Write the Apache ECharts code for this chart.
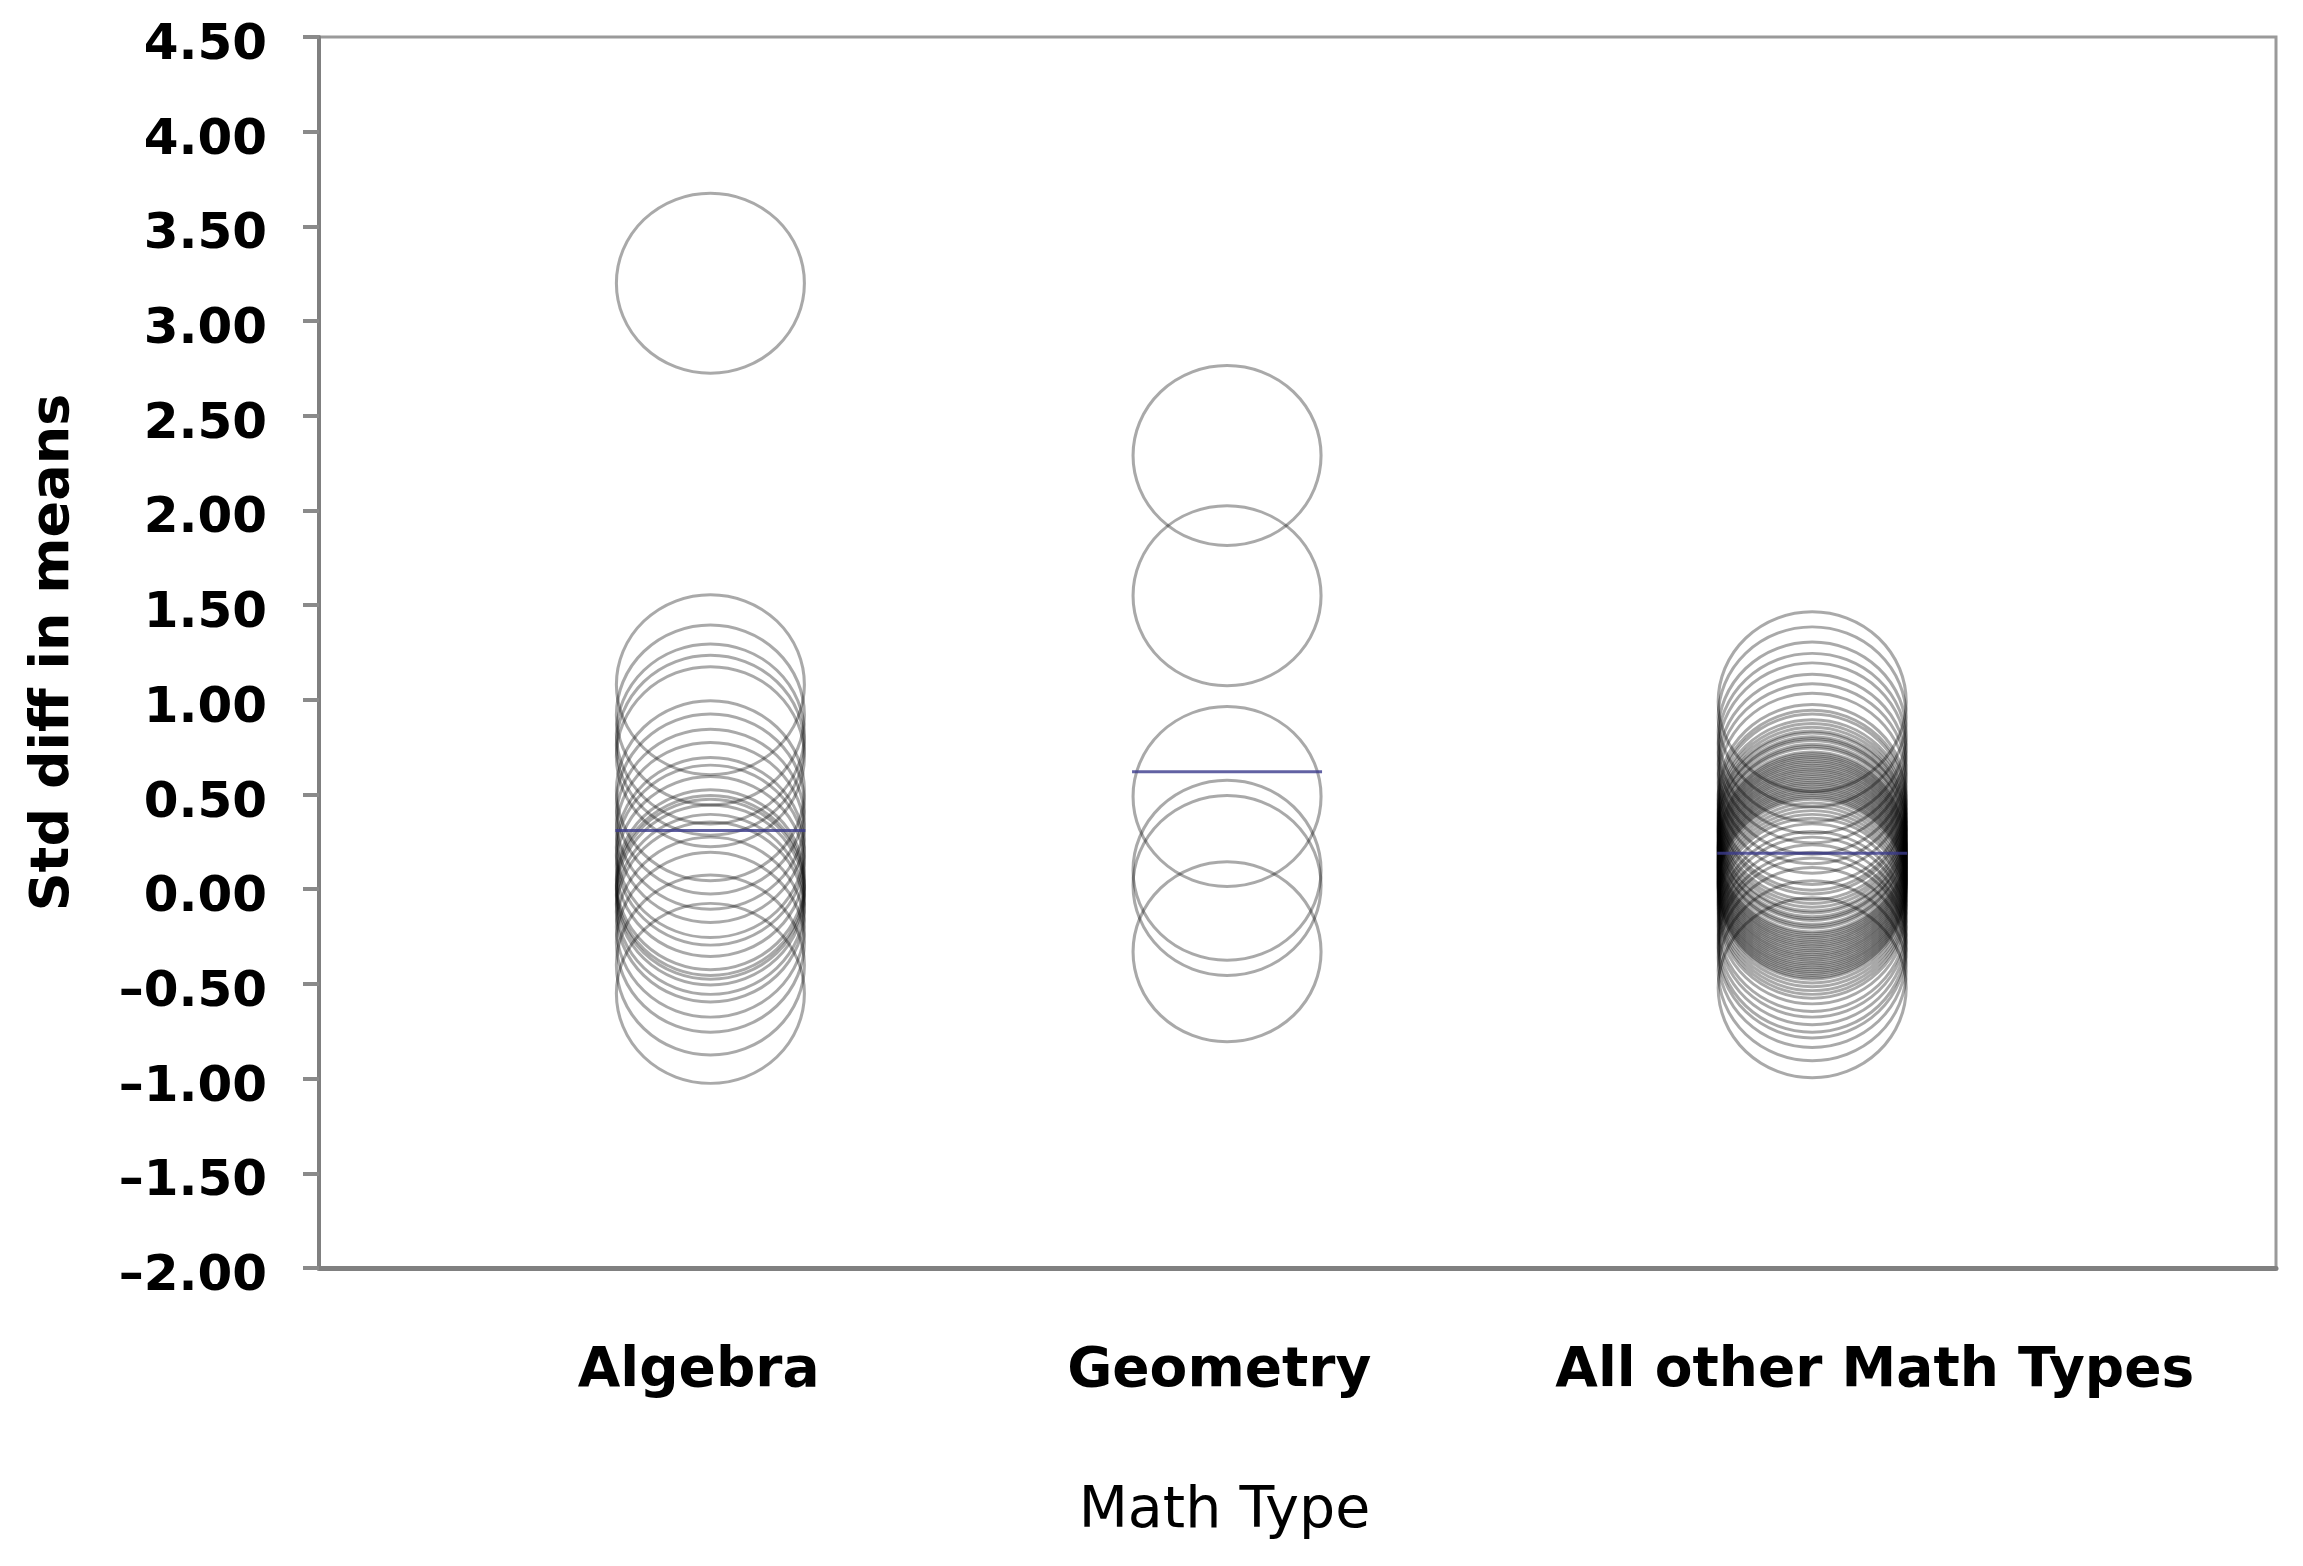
<!DOCTYPE html>
<html>
<head>
<meta charset="utf-8">
<title>Std diff in means by Math Type</title>
<script src="https://cdn.jsdelivr.net/npm/echarts@6.0.0/dist/echarts.min.js"></script>
<style>
  html, body { margin: 0; padding: 0; background: #fff; }
  #main { width: 2303px; height: 1566px; }
</style>
</head>
<body>
<div id="main"></div>
<script>
// categories and where they sit on the (hidden) 0-100 x scale
const categories = ['Algebra', 'Geometry', 'All other Math Types'];
const catX = [20.0, 46.4, 76.3];
const labelX = [19.4, 46.0, 79.5];

// study effects (std diff in means)
const algebraVals = [3.20, 1.08, 0.92, 0.82, 0.76, 0.70, 0.52, 0.45, 0.37, 0.30, 0.22,
  0.18, 0.12, 0.05, 0.02, 0.00, -0.03, -0.08, -0.12, -0.20, -0.28, -0.40, -0.55];
const geometryVals = [2.29, 1.55, 0.49, 0.10, 0.02, -0.33];
const otherVals = [0.99, 0.91, 0.83, 0.77, 0.72, 0.66, 0.61, 0.56, 0.50, 0.47, 0.45,
  0.42, 0.40, 0.38, 0.36, 0.35, 0.33, 0.32, 0.31, 0.29, 0.28, 0.27, 0.25, 0.24, 0.23,
  0.22, 0.21, 0.20, 0.19, 0.18, 0.17, 0.16, 0.15, 0.14, 0.13, 0.12, 0.11, 0.10, 0.09,
  0.08, 0.07, 0.06, 0.05, 0.04, 0.03, 0.02, 0.01, 0.00, -0.02, -0.04, -0.06,
  -0.08, -0.10, -0.13, -0.17, -0.20, -0.24, -0.28, -0.31, -0.36, -0.43, -0.52];

// summary (mean) per category
const meanVals = [0.31, 0.62, 0.19];

const yMin = -2, yMax = 4.5, yStep = 0.5;

const groups = [algebraVals, geometryVals, otherVals];
const points = [];
groups.forEach(function (vals, i) {
  vals.forEach(function (v) { points.push([catX[i], v]); });
});
const means = meanVals.map(function (m, i) { return [catX[i], m]; });

const chart = echarts.init(document.getElementById('main'));

const option = {
  animation: false,
  backgroundColor: '#ffffff',
  grid: {
    left: 319,
    right: 27,
    top: 37,
    bottom: 298,
    show: true,
    borderColor: '#9a9a9a',
    borderWidth: 3
  },
  xAxis: {
    type: 'value',
    min: 0,
    max: 100,
    name: 'Math Type',
    nameLocation: 'middle',
    nameGap: 216,
    nameTextStyle: {
      fontFamily: 'DejaVu Sans',
      fontSize: 57,
      color: '#000',
      padding: [0, 146, 0, 0]
    },
    axisLine: { show: true, onZero: false, lineStyle: { color: '#808080', width: 5 } },
    axisTick: { show: false },
    splitLine: { show: false },
    axisLabel: {
      customValues: labelX,
      margin: 76,
      fontFamily: 'DejaVu Sans',
      fontWeight: 'bold',
      fontSize: 55,
      color: '#000',
      formatter: function (v) {
        const i = labelX.indexOf(v);
        return i >= 0 ? categories[i] : '';
      }
    }
  },
  yAxis: {
    type: 'value',
    min: yMin,
    max: yMax,
    interval: yStep,
    name: 'Std diff in means',
    nameLocation: 'middle',
    nameGap: 238,
    nameTextStyle: {
      fontFamily: 'DejaVu Sans',
      fontWeight: 'bold',
      fontSize: 54,
      color: '#000'
    },
    axisLine: { show: true, lineStyle: { color: '#808080', width: 4 } },
    axisTick: { show: true, length: 16, lineStyle: { color: '#8a8a8a', width: 4 } },
    splitLine: { show: false },
    axisLabel: {
      margin: 52,
      fontFamily: 'DejaVu Sans',
      fontWeight: 'bold',
      fontSize: 50,
      color: '#000',
      verticalAlign: 'top',
      lineHeight: 50,
      padding: [-16, 0, 0, 0],
      formatter: function (v) {
        const s = Math.abs(v).toFixed(2);
        return v < 0 ? '\u2013' + s : s;
      }
    }
  },
  series: [
    {
      name: 'studies',
      type: 'scatter',
      data: points,
      symbol: 'circle',
      symbolSize: [188, 180],
      itemStyle: {
        color: 'rgba(255,255,255,0)',
        borderColor: 'rgba(0,0,0,0.42)',
        borderWidth: 3
      },
      emphasis: { disabled: true },
      z: 2
    },
    {
      name: 'mean',
      type: 'scatter',
      data: means,
      symbol: 'rect',
      symbolSize: [190, 3],
      itemStyle: { color: '#3b3b8c' },
      emphasis: { disabled: true },
      z: 3
    }
  ]
};

chart.setOption(option);
</script>
</body>
</html>
